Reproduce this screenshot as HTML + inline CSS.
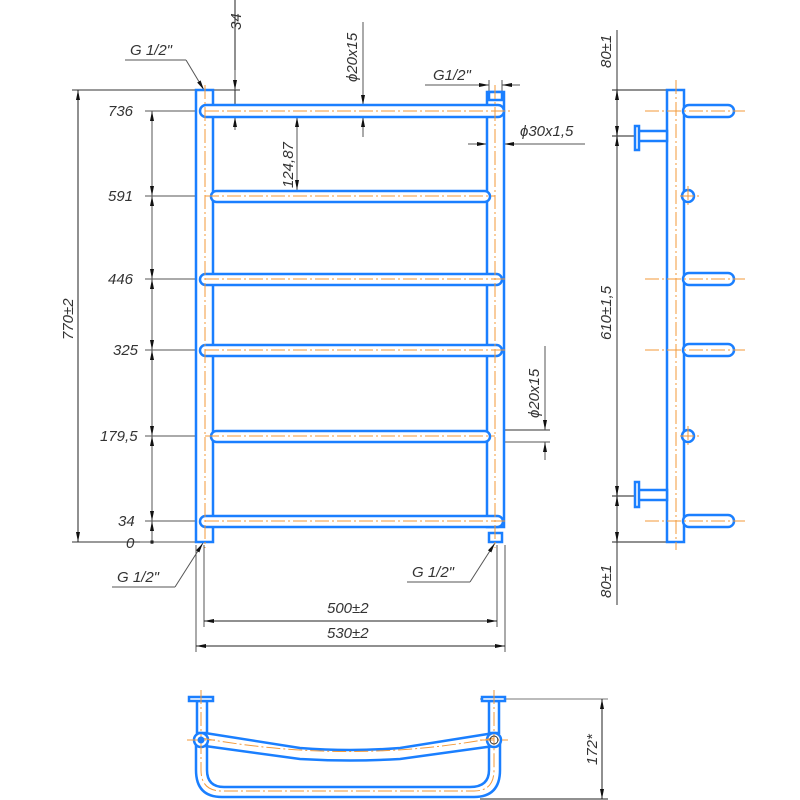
<!DOCTYPE html>
<html><head><meta charset="utf-8"><style>
html,body{margin:0;padding:0;background:#fff;width:800px;height:800px;overflow:hidden}
svg{display:block}
text{font-family:"Liberation Sans",sans-serif;font-style:italic;font-size:15px;fill:#333}
</style></head><body>
<svg width="800" height="800" viewBox="0 0 800 800" xmlns="http://www.w3.org/2000/svg">
<defs>
<marker id="a" markerWidth="10" markerHeight="6" refX="10" refY="3" orient="auto-start-reverse" markerUnits="userSpaceOnUse"><path d="M0,1 L10,3 L0,5 Z" fill="#111"/></marker>
</defs>
<g fill="none" stroke="#555" stroke-width="1">
<line x1="72" y1="90" x2="240" y2="90" stroke="#333"/>
<line x1="72" y1="542" x2="150" y2="542" stroke="#333"/>
<line x1="78" y1="90" x2="78" y2="542" stroke="#222" marker-start="url(#a)" marker-end="url(#a)"/>
<line x1="145" y1="111" x2="205" y2="111"/>
<line x1="145" y1="196" x2="215" y2="196"/>
<line x1="145" y1="279" x2="215" y2="279"/>
<line x1="145" y1="350" x2="215" y2="350"/>
<line x1="145" y1="436" x2="215" y2="436"/>
<line x1="145" y1="521" x2="205" y2="521"/>
<line x1="140" y1="542" x2="200" y2="542"/>
<line x1="152" y1="111" x2="152" y2="196" marker-start="url(#a)" marker-end="url(#a)"/>
<line x1="152" y1="196" x2="152" y2="279" marker-start="url(#a)" marker-end="url(#a)"/>
<line x1="152" y1="279" x2="152" y2="350" marker-start="url(#a)" marker-end="url(#a)"/>
<line x1="152" y1="350" x2="152" y2="436" marker-start="url(#a)" marker-end="url(#a)"/>
<line x1="152" y1="436" x2="152" y2="521" marker-start="url(#a)" marker-end="url(#a)"/>
<line x1="152" y1="521" x2="152" y2="542" marker-start="url(#a)"/>
<circle cx="152" cy="542" r="1.5" fill="#111"/>
<line x1="235" y1="0" x2="235" y2="130" stroke="#222"/>
<line x1="235" y1="70" x2="235" y2="90" marker-end="url(#a)"/>
<line x1="235" y1="130" x2="235" y2="117" marker-end="url(#a)"/>
<line x1="125" y1="60" x2="186" y2="60"/>
<line x1="186" y1="60" x2="204" y2="90" marker-end="url(#a)"/>
<line x1="230" y1="117" x2="350" y2="117" stroke="#222"/>
<line x1="297" y1="117" x2="297" y2="190" marker-start="url(#a)" marker-end="url(#a)"/>
<line x1="363" y1="22" x2="363" y2="105" marker-end="url(#a)"/>
<line x1="363" y1="137" x2="363" y2="117" marker-end="url(#a)"/>
<line x1="425" y1="85" x2="487" y2="85"/>
<line x1="480" y1="85" x2="489" y2="85" marker-end="url(#a)"/>
<line x1="520" y1="85" x2="502" y2="85" marker-end="url(#a)"/>
<line x1="489" y1="80" x2="489" y2="95"/><line x1="502" y1="80" x2="502" y2="95"/>
<line x1="468" y1="144" x2="487" y2="144" marker-end="url(#a)"/>
<line x1="585" y1="144" x2="504" y2="144" marker-end="url(#a)"/>
<line x1="490" y1="430" x2="550" y2="430" stroke="#333"/>
<line x1="490" y1="442" x2="550" y2="442"/>
<line x1="545" y1="346" x2="545" y2="430" marker-end="url(#a)"/>
<line x1="545" y1="460" x2="545" y2="442" marker-end="url(#a)"/>
<line x1="112" y1="587" x2="175" y2="587"/>
<line x1="175" y1="587" x2="203" y2="543" marker-end="url(#a)"/>
<line x1="407" y1="582" x2="470" y2="582"/>
<line x1="470" y1="582" x2="495" y2="543" marker-end="url(#a)"/>
<line x1="196" y1="545" x2="196" y2="652"/>
<line x1="204" y1="545" x2="204" y2="627"/>
<line x1="497" y1="545" x2="497" y2="627"/>
<line x1="505" y1="545" x2="505" y2="652"/>
<line x1="204" y1="621" x2="497" y2="621" stroke="#222" marker-start="url(#a)" marker-end="url(#a)"/>
<line x1="196" y1="646" x2="505" y2="646" stroke="#222" marker-start="url(#a)" marker-end="url(#a)"/>
<line x1="617" y1="30" x2="617" y2="605" stroke="#777" stroke-width="1.5"/>
<line x1="612" y1="90" x2="667" y2="90" stroke="#222"/>
<line x1="612" y1="136" x2="645" y2="136" stroke="#222"/>
<line x1="612" y1="496" x2="645" y2="496" stroke="#222"/>
<line x1="612" y1="542" x2="667" y2="542" stroke="#222"/>
<line x1="617" y1="100" x2="617" y2="90" marker-end="url(#a)"/>
<line x1="617" y1="126" x2="617" y2="136" marker-end="url(#a)"/>
<line x1="617" y1="146" x2="617" y2="136" marker-end="url(#a)"/>
<line x1="617" y1="486" x2="617" y2="496" marker-end="url(#a)"/>
<line x1="617" y1="506" x2="617" y2="496" marker-end="url(#a)"/>
<line x1="617" y1="532" x2="617" y2="542" marker-end="url(#a)"/>
<line x1="480" y1="699" x2="608" y2="699" stroke="#777"/>
<line x1="480" y1="799" x2="608" y2="799" stroke="#222"/>
<line x1="602" y1="699" x2="602" y2="799" stroke="#222" marker-start="url(#a)" marker-end="url(#a)"/>
</g>
<g stroke="#1a7fff" stroke-width="2.5" fill="#fff">
<rect x="196" y="90" width="17" height="452"/>
<rect x="487" y="92" width="17" height="435"/>
<rect x="489" y="533" width="13" height="9"/>
<rect x="489" y="92" width="13" height="8"/>
<rect x="200" y="105" width="304" height="12" rx="6"/>
<rect x="211" y="191" width="279" height="11" rx="5.5"/>
<rect x="200" y="274" width="302" height="11" rx="5.5"/>
<rect x="200" y="345" width="302" height="11" rx="5.5"/>
<rect x="211" y="431" width="279" height="11" rx="5.5"/>
<rect x="200" y="516" width="303" height="11" rx="5.5"/>
<rect x="667" y="90" width="17" height="452"/>
<rect x="683" y="105" width="51" height="12" rx="6"/>
<rect x="683" y="273" width="51" height="12" rx="6"/>
<rect x="683" y="344" width="51" height="12" rx="6"/>
<rect x="683" y="515" width="51" height="12" rx="6"/>
<circle cx="688" cy="196" r="6"/>
<circle cx="688" cy="436" r="6"/>
<rect x="638" y="131" width="29" height="10"/>
<rect x="635" y="126" width="4" height="24"/>
<rect x="638" y="490" width="29" height="10"/>
<rect x="635" y="482" width="4" height="25"/>
<path d="M196,740 V770 Q196,797 222,797 H474 Q500,797 500,770 V740" fill="none" stroke-width="2.5"/>
<path d="M207,742 V770 Q207,787 224,787 H470 Q489,787 489,770 V742" fill="none" stroke-width="2.5"/>
<path d="M205,733 L300,748 Q350,752 400,748 L494,733" fill="none"/>
<path d="M205,746 L300,759 Q350,762 400,759 L494,746" fill="none"/>
<rect x="197" y="701" width="10" height="32"/>
<rect x="489" y="701" width="10" height="32"/>
<rect x="189" y="697" width="24" height="4"/>
<rect x="482" y="697" width="23" height="4"/>
<circle cx="201" cy="740" r="7"/>
<circle cx="494" cy="740" r="7"/>
</g>
<g stroke="#f39a3a" stroke-width="1" stroke-dasharray="14,3,2,3" fill="none">
<line x1="205" y1="85" x2="205" y2="548"/>
<line x1="495" y1="85" x2="495" y2="548"/>
<line x1="205" y1="111" x2="510" y2="111"/>
<line x1="205" y1="196" x2="495" y2="196"/>
<line x1="205" y1="279" x2="505" y2="279"/>
<line x1="205" y1="350" x2="505" y2="350"/>
<line x1="205" y1="436" x2="495" y2="436"/>
<line x1="205" y1="521" x2="505" y2="521"/>
<line x1="676" y1="80" x2="676" y2="550"/>
<line x1="645" y1="111" x2="745" y2="111"/>
<line x1="645" y1="279" x2="745" y2="279"/>
<line x1="645" y1="350" x2="745" y2="350"/>
<line x1="645" y1="521" x2="745" y2="521"/>
<line x1="680" y1="196" x2="700" y2="196"/><line x1="688" y1="186" x2="688" y2="206"/>
<line x1="680" y1="436" x2="700" y2="436"/><line x1="688" y1="426" x2="688" y2="446"/>
<path d="M201,738 Q350,765 494,738"/>
<path d="M201,740 V770 Q201,791 222,791 H474 Q494,791 494,770 V740"/>
<line x1="201" y1="690" x2="201" y2="745"/><line x1="494" y1="690" x2="494" y2="745"/>
<line x1="187" y1="740" x2="215" y2="740"/><line x1="480" y1="740" x2="508" y2="740"/>
</g>
<circle cx="201" cy="740" r="3.5" fill="#1a7fff"/>
<circle cx="494" cy="740" r="4" fill="none" stroke="#333"/>
<text x="108" y="116">736</text>
<text x="108" y="201">591</text>
<text x="108" y="284">446</text>
<text x="113" y="355">325</text>
<text x="100" y="441">179,5</text>
<text x="118" y="526">34</text>
<text x="126" y="548">0</text>
<text x="130" y="55">G 1/2"</text>
<text x="433" y="80">G1/2"</text>
<text x="520" y="136">ϕ30x1,5</text>
<text x="117" y="582">G 1/2"</text>
<text x="412" y="577">G 1/2"</text>
<text x="327" y="613">500±2</text>
<text x="327" y="638">530±2</text>
<text transform="translate(73,340) rotate(-90)">770±2</text>
<text transform="translate(241,30) rotate(-90)">34</text>
<text transform="translate(293,188) rotate(-90)">124,87</text>
<text transform="translate(357,82) rotate(-90)">ϕ20x15</text>
<text transform="translate(539,418) rotate(-90)">ϕ20x15</text>
<text transform="translate(611,68) rotate(-90)">80±1</text>
<text transform="translate(611,340) rotate(-90)">610±1,5</text>
<text transform="translate(611,598) rotate(-90)">80±1</text>
<text transform="translate(597,765) rotate(-90)">172*</text>
</svg>
</body></html>
